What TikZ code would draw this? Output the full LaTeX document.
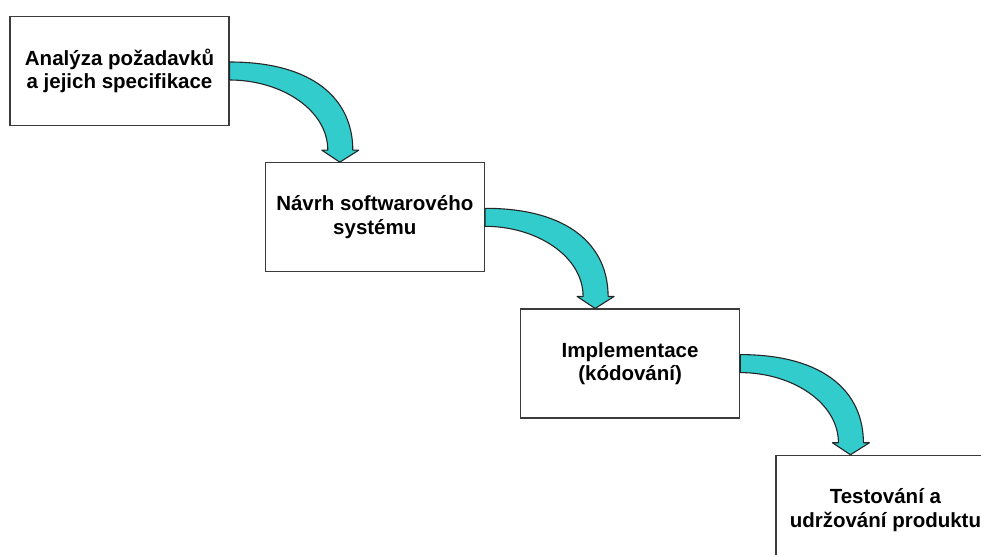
\documentclass[tikz,border=0pt]{standalone}
\usepackage{fontspec}
\setsansfont{Liberation Sans}
\usetikzlibrary{positioning,calc}
\definecolor{flowcyan}{RGB}{51,204,204}
\definecolor{edgegray}{RGB}{60,60,60}
\tikzset{%
  % Specifications for style of nodes:
      stage/.style = {rectangle, draw=edgegray, line width=1.3pt,
                      minimum width=219pt, minimum height=109pt,
                      text centered, align=center,
                      font=\sffamily\bfseries\fontsize{20.5}{23.5}\selectfont},
       flow/.style = {fill=flowcyan, draw=black!85, line width=1.1pt,
                      line join=round},
}
% curved arrow from the east side of #1 down onto the top of #2
\newcommand{\stagearrow}[2]{%
  \filldraw[flow] ($(#1.east)+(0,-9)$)
      .. controls +(85,0) and +(0,-50) .. ($(#2.north)+(-22,-12)$)
      -- ++(6,0) -- ($(#2.north)+(-35,0)$) -- ++(-18,-12) -- ++(6,0)
      .. controls +(0,-40) and +(52,0) .. ($(#1.east)+(0,9)$) -- cycle;}

\begin{document}
\begin{tikzpicture}[x=1pt, y=-1pt, node distance=36pt and 35pt]
    \clip (0,0) rectangle (981,554);
    \useasboundingbox (0,0) rectangle (981,554);

    \node (spec)   [stage] at (119.5,71)           {Analýza požadavků\\a jejich specifikace};
    \node (design) [stage, below right=of spec]    {Návrh softwarového\\systému};
    \node (code)   [stage, below right=of design]  {Implementace\\(kódování)};
    \node (test)   [stage, below right=of code]    {Testování a\\udržování produktu};

    \stagearrow{spec}{design}
    \stagearrow{design}{code}
    \stagearrow{code}{test}

\end{tikzpicture}
\end{document}
